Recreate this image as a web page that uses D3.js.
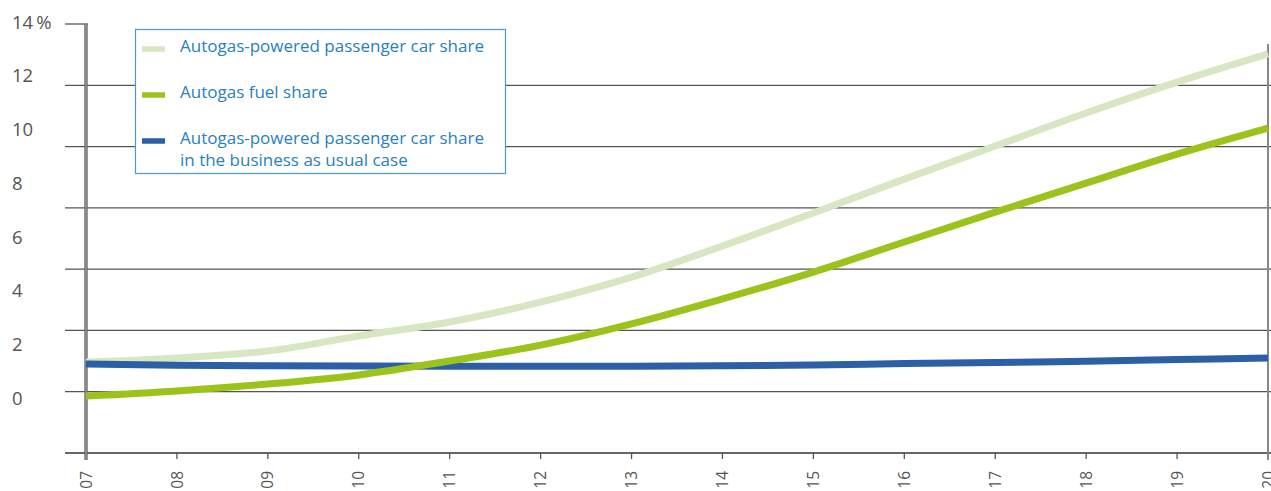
<!DOCTYPE html>
<html><head><meta charset="utf-8">
<script src="https://cdn.jsdelivr.net/npm/d3@7"></script>
<style>body{margin:0;background:#fff;} svg{display:block;}</style>
</head><body>
<svg id="chart" width="1271" height="491"></svg>
<script>
const years = ["07","08","09","10","11","12","13","14","15","16","17","18","19","20"];
const carShare = [1.34,1.49,1.75,2.31,2.83,3.57,4.50,5.66,6.89,8.15,9.38,10.61,11.76,12.81];
const fuelShare = [0.07,0.26,0.52,0.86,1.38,1.97,2.76,3.69,4.69,5.81,6.92,8.0,9.08,10.05];
const bauShare = [1.27,1.22,1.20,1.19,1.18,1.18,1.18,1.20,1.23,1.28,1.32,1.37,1.43,1.49];
const yTickValues = [0,2,4,6,8,10,12,14];
const gridIndex = [0,1,2,3,4,5,6,7];
const seriesNames = ["Autogas-powered passenger car share","Autogas fuel share","Autogas-powered passenger car share\nin the business as usual case"];
const seriesColors = ["#d7e6c3","#9bc31c","#2b5fa6"];

const svg = d3.select("#chart");
const font = "'Open Sans', sans-serif";
const x = d3.scalePoint().domain(years).range([86,1268]);
const y = d3.scaleLinear().domain([0,14]).range([398,22]);
const frame = d3.scaleLinear().domain([0,7]).range([453,24]);

// gridlines
const g = svg.append("g");
g.selectAll("line.grid").data(gridIndex).join("line")
  .attr("x1",65).attr("x2",d=> d===7 ? 88 : 1271)
  .attr("y1",d=>frame(d)).attr("y2",d=>frame(d))
  .attr("stroke",d=> d===0 ? "#666" : "#555").attr("stroke-width",d=> d===0?2:1.3);
// x ticks
g.selectAll("line.xt").data(years).join("line")
  .attr("x1",d=>x(d)).attr("x2",d=>x(d)).attr("y1",453).attr("y2",459)
  .attr("stroke","#555").attr("stroke-width",1.3);
// left axis double line
g.append("line").attr("x1",86).attr("x2",86).attr("y1",24).attr("y2",460).attr("stroke","#555").attr("stroke-width",3.2);
g.append("line").attr("x1",86).attr("x2",86).attr("y1",24).attr("y2",460).attr("stroke","#bbb").attr("stroke-width",1);
// right edge
g.append("line").attr("x1",1268).attr("x2",1268).attr("y1",44).attr("y2",460).attr("stroke","#888").attr("stroke-width",2);

// y labels
svg.append("g").selectAll("text").data(yTickValues).join("text")
  .attr("x",12).attr("y",d=>y(d)).attr("dy","0.36em")
  .attr("font-family",font).attr("font-size",18.5).attr("fill","#555")
  .text(d=> d===14 ? "14\u2009%" : d);

// x labels
svg.append("g").selectAll("text").data(years).join("text")
  .attr("transform",d=>`translate(${x(d)},471) rotate(-90)`)
  .attr("text-anchor","end").attr("dy","0.36em")
  .attr("font-family",font).attr("font-size",15.5).attr("fill","#555")
  .text(d=>d);

// lines
const line = d3.line().x((d,i)=>x(years[i])).y(d=>y(d)).curve(d3.curveCatmullRom.alpha(0.5));
const drawOrder = [[carShare,0],[bauShare,2],[fuelShare,1]];
drawOrder.forEach(([vals,ci])=>{
  svg.append("path").datum(vals).attr("d",line).attr("fill","none")
    .attr("stroke",seriesColors[ci]).attr("stroke-width",7).attr("stroke-linecap","butt");
});

// legend
const lg = svg.append("g");
lg.append("rect").attr("x",135.5).attr("y",29.5).attr("width",370).attr("height",144)
  .attr("fill","#fff").attr("stroke","#4a98d4").attr("stroke-width",1.2);
const legY = [49,95,141];
seriesNames.forEach((name,i)=>{
  lg.append("line").attr("x1",142).attr("x2",165).attr("y1",legY[i]).attr("y2",legY[i])
    .attr("stroke",seriesColors[i]).attr("stroke-width",5.5);
  const t = lg.append("text").attr("x",180).attr("y",legY[i]+3)
    .attr("font-family",font).attr("font-size",17).attr("fill","#2a7fc1");
  name.split("\n").forEach((ln,j)=>{
    t.append("tspan").attr("x",180).attr("dy", j===0?0:22).text(ln);
  });
});
</script>
</body></html>
